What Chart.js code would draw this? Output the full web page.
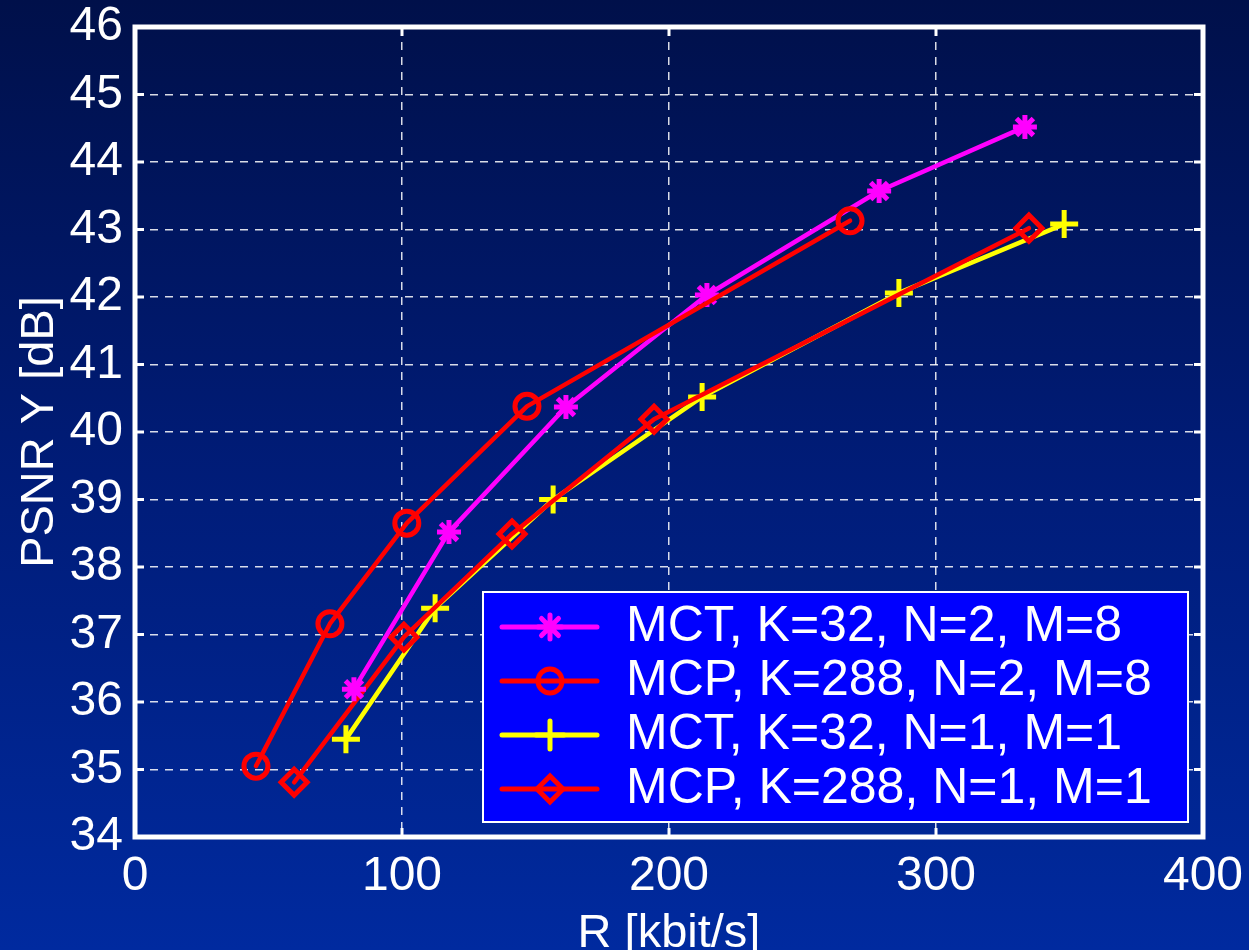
<!DOCTYPE html>
<html>
<head>
<meta charset="utf-8">
<script src="https://cdn.jsdelivr.net/npm/chart.js@4/dist/chart.umd.min.js"></script>
<style>
  html, body { margin: 0; padding: 0; }
  body {
    width: 1249px; height: 950px; overflow: hidden;
    background: linear-gradient(to bottom, #00104a 0%, #001c78 50%, #002a9f 100%);
  }
  #wrap { position: relative; width: 1249px; height: 950px; }
</style>
</head>
<body>
<div id="wrap"><canvas id="rd"></canvas></div>
<script>
// ── Rate / PSNR curves ───────────────────────────────────
const mctK32N2M8_rate = [82, 117.6, 161.4, 214.2, 278.7, 333.3];
const mctK32N2M8_psnr = [36.19, 38.52, 40.37, 42.03, 43.57, 44.52];

const mcpK288N2M8_rate = [45.3, 73, 101.8, 146.8, 267.8];
const mcpK288N2M8_psnr = [35.05, 37.16, 38.65, 40.38, 43.13];

const mctK32N1M1_rate = [79, 112.4, 156.6, 212.4, 286.1, 348];
const mctK32N1M1_psnr = [35.45, 37.39, 39.0, 40.52, 42.06, 43.08];

const mcpK288N1M1_rate = [59.6, 100.7, 141.2, 194.4, 334.8];
const mcpK288N1M1_psnr = [34.81, 36.96, 38.49, 40.19, 43.02];

const seriesLabels = [
  'MCT, K=32, N=2, M=8',
  'MCP, K=288, N=2, M=8',
  'MCT, K=32, N=1, M=1',
  'MCP, K=288, N=1, M=1'
];

const xTicks = [0, 100, 200, 300, 400];
const yTicks = [34, 35, 36, 37, 38, 39, 40, 41, 42, 43, 44, 45, 46];

const FONT = '"Liberation Sans", Arial, sans-serif';

const pts = (xs, ys) => xs.map((x, i) => ({ x, y: ys[i] }));

// marker shapes shared by the curves and the legend box
const styles = [
  { color: '#ff00ff', point: 'star',    radius: 12, fill: '#ff00ff' },
  { color: '#ff0000', point: 'circle',  radius: 12, fill: 'transparent' },
  { color: '#ffff00', point: 'cross',   radius: 14, fill: '#ffff00' },
  { color: '#ff0000', point: 'rectRot', radius: 13, fill: 'transparent' }
];
const drawOrder = [1, 0, 3, 2];

const allData = [
  pts(mctK32N2M8_rate, mctK32N2M8_psnr),
  pts(mcpK288N2M8_rate, mcpK288N2M8_psnr),
  pts(mctK32N1M1_rate, mctK32N1M1_psnr),
  pts(mcpK288N1M1_rate, mcpK288N1M1_psnr)
];

const datasets = allData.map((d, i) => ({
  label: seriesLabels[i],
  data: d,
  order: drawOrder[i],
  borderColor: styles[i].color,
  backgroundColor: styles[i].fill,
  borderWidth: 4.5,
  borderJoinStyle: 'round',
  borderCapStyle: 'round',
  pointStyle: styles[i].point,
  pointRadius: styles[i].radius,
  pointBorderWidth: 5,
  pointBorderColor: styles[i].color,
  pointBackgroundColor: styles[i].fill,
  tension: 0
}));

function drawMarker(ctx, style, x, y) {
  const r = style.radius;
  ctx.save();
  ctx.strokeStyle = style.color;
  ctx.lineWidth = 5;
  ctx.lineCap = 'round';
  ctx.beginPath();
  if (style.point === 'circle') {
    ctx.arc(x, y, r, 0, Math.PI * 2);
  } else if (style.point === 'rectRot') {
    ctx.moveTo(x, y - r); ctx.lineTo(x + r, y); ctx.lineTo(x, y + r); ctx.lineTo(x - r, y); ctx.closePath();
  } else {
    ctx.moveTo(x - r, y); ctx.lineTo(x + r, y);
    ctx.moveTo(x, y - r); ctx.lineTo(x, y + r);
    if (style.point === 'star') {
      const d = r * Math.SQRT1_2;
      ctx.moveTo(x - d, y - d); ctx.lineTo(x + d, y + d);
      ctx.moveTo(x - d, y + d); ctx.lineTo(x + d, y - d);
    }
  }
  ctx.stroke();
  ctx.restore();
}

// box, inward ticks, axis titles and the legend panel
const decorations = {
  id: 'decorations',
  afterDraw(chart) {
    const { ctx, chartArea: a, scales } = chart;
    ctx.save();

    ctx.strokeStyle = '#ffffff';
    ctx.lineWidth = 3;
    xTicks.slice(1, -1).forEach(v => {
      const px = scales.x.getPixelForValue(v);
      ctx.beginPath();
      ctx.moveTo(px, a.bottom); ctx.lineTo(px, a.bottom - 9);
      ctx.moveTo(px, a.top); ctx.lineTo(px, a.top + 9);
      ctx.stroke();
    });
    yTicks.slice(1, -1).forEach(v => {
      const py = scales.y.getPixelForValue(v);
      ctx.beginPath();
      ctx.moveTo(a.left, py); ctx.lineTo(a.left + 9, py);
      ctx.moveTo(a.right, py); ctx.lineTo(a.right - 9, py);
      ctx.stroke();
    });

    ctx.lineWidth = 5;
    ctx.strokeRect(a.left, a.top, a.right - a.left, a.bottom - a.top);

    // axis titles
    ctx.fillStyle = '#ffffff';
    ctx.font = '47px ' + FONT;
    ctx.textAlign = 'center';
    ctx.textBaseline = 'alphabetic';
    ctx.fillText('R [kbit/s]', (a.left + a.right) / 2, 947);
    ctx.save();
    ctx.translate(53, (a.top + a.bottom) / 2);
    ctx.rotate(-Math.PI / 2);
    ctx.fillText('PSNR Y [dB]', 0, 0);
    ctx.restore();

    // legend panel
    const lx = 483, ly = 592, lw = 705, lh = 230;
    ctx.fillStyle = '#0000ff';
    ctx.fillRect(lx, ly, lw, lh);
    ctx.strokeStyle = '#ffffff';
    ctx.lineWidth = 2;
    ctx.strokeRect(lx, ly, lw, lh);

    const rows = [627, 681, 735, 789];
    seriesLabels.forEach((txt, i) => {
      const y = rows[i];
      ctx.strokeStyle = styles[i].color;
      ctx.lineWidth = 5;
      ctx.lineCap = 'round';
      ctx.beginPath();
      ctx.moveTo(502, y); ctx.lineTo(597, y);
      ctx.stroke();
      drawMarker(ctx, styles[i], 550, y);
      ctx.fillStyle = '#ffffff';
      ctx.font = '50px ' + FONT;
      ctx.textAlign = 'left';
      ctx.textBaseline = 'alphabetic';
      ctx.fillText(txt, 626, y + 14);
    });

    ctx.restore();
  }
};

new Chart(document.getElementById('rd'), {
  type: 'line',
  data: { datasets },
  options: {
    responsive: true,
    maintainAspectRatio: false,
    animation: false,
    layout: { padding: { left: 0, right: 46, top: 27, bottom: 0 } },
    plugins: {
      legend: { display: false },
      tooltip: { enabled: false }
    },
    scales: {
      x: {
        type: 'linear',
        min: 0, max: 400,
        afterFit: s => { s.height = 113; s.paddingLeft = 0; s.paddingRight = 0; },
        afterBuildTicks: s => { s.ticks = xTicks.map(v => ({ value: v })); },
        border: { display: false, dash: [8, 7] },
        grid: { color: 'rgba(255,255,255,0.85)', lineWidth: 1.5, drawTicks: false },
        ticks: { color: '#ffffff', padding: 11, font: { size: 48, family: FONT } }
      },
      y: {
        type: 'linear',
        min: 34, max: 46,
        afterFit: s => { s.width = 135; s.paddingTop = 0; s.paddingBottom = 0; },
        afterBuildTicks: s => { s.ticks = yTicks.map(v => ({ value: v })); },
        border: { display: false, dash: [8, 7] },
        grid: { color: 'rgba(255,255,255,0.85)', lineWidth: 1.5, drawTicks: false },
        ticks: { color: '#ffffff', padding: 12, font: { size: 48, family: FONT } }
      }
    }
  },
  plugins: [decorations]
});
</script>
</body>
</html>
